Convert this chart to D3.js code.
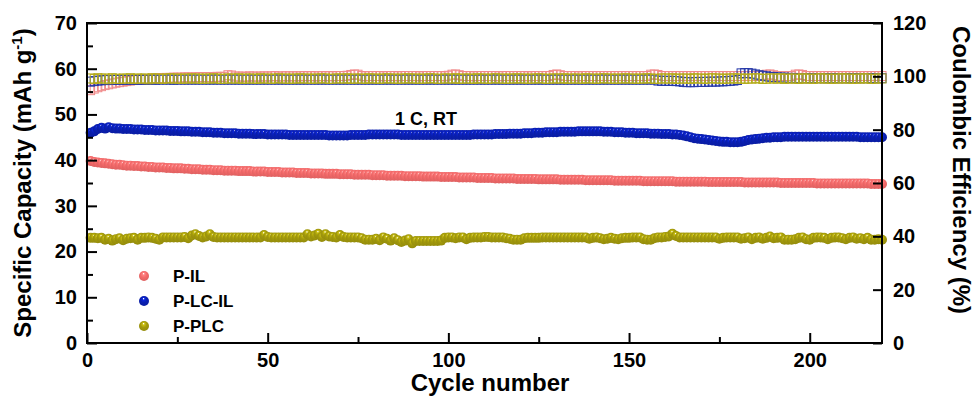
<!DOCTYPE html>
<html>
<head>
<meta charset="utf-8">
<script src="https://cdn.jsdelivr.net/npm/d3@7"></script>
<style>
  body { margin: 0; background: #fff; }
  text { font-family: 'Liberation Sans', Arial, sans-serif; font-weight: bold; fill: #000; }
</style>
</head>
<body>
<div class="svg"></div>
<script>
const width = 975
const height = 400
const margin = { top: 23, right: 93, bottom: 57, left: 87 }

// Cycle numbers 1..220
const cycles = d3.range(1, 221)

// Specific capacity (mAh g-1)
const capIL = [
  39.8,39.6,39.5,39.4,39.3,39.2,39.1,39.0,39.0,38.9,
  38.8,38.8,38.7,38.7,38.6,38.6,38.5,38.5,38.4,38.4,
  38.4,38.3,38.3,38.2,38.2,38.2,38.1,38.1,38.0,38.0,
  38.0,37.9,37.9,37.9,37.8,37.8,37.8,37.7,37.7,37.7,
  37.7,37.6,37.6,37.6,37.6,37.5,37.5,37.5,37.5,37.4,
  37.4,37.4,37.4,37.3,37.3,37.3,37.3,37.2,37.2,37.2,
  37.2,37.1,37.1,37.1,37.1,37.0,37.0,37.0,37.0,36.9,
  36.9,36.9,36.9,36.8,36.8,36.8,36.8,36.8,36.7,36.7,
  36.7,36.7,36.6,36.6,36.6,36.6,36.6,36.5,36.5,36.5,
  36.5,36.5,36.4,36.4,36.4,36.4,36.4,36.3,36.3,36.3,
  36.3,36.3,36.2,36.2,36.2,36.2,36.2,36.1,36.1,36.1,
  36.1,36.1,36.0,36.0,36.0,36.0,36.0,36.0,35.9,35.9,
  35.9,35.9,35.9,35.9,35.8,35.8,35.8,35.8,35.8,35.8,
  35.7,35.7,35.7,35.7,35.7,35.7,35.7,35.6,35.6,35.6,
  35.6,35.6,35.6,35.6,35.6,35.5,35.5,35.5,35.5,35.5,
  35.5,35.5,35.5,35.4,35.4,35.4,35.4,35.4,35.4,35.4,
  35.4,35.4,35.3,35.3,35.3,35.3,35.3,35.3,35.3,35.3,
  35.3,35.2,35.2,35.2,35.2,35.2,35.2,35.2,35.2,35.2,
  35.2,35.1,35.1,35.1,35.1,35.1,35.1,35.1,35.1,35.1,
  35.1,35.0,35.0,35.0,35.0,35.0,35.0,35.0,35.0,35.0,
  35.0,34.9,34.9,34.9,34.9,34.9,34.9,34.9,34.9,34.9,
  34.9,34.9,34.9,34.9,34.9,34.9,34.8,34.8,34.8,34.8
]

const capLCIL = [
  46.0,46.3,46.8,47.1,46.9,47.2,47.0,46.9,46.9,46.8,
  46.8,46.8,46.7,46.7,46.7,46.6,46.6,46.6,46.5,46.5,
  46.5,46.5,46.4,46.4,46.4,46.3,46.3,46.3,46.2,46.2,
  46.2,46.1,46.1,46.1,46.0,46.0,46.0,45.9,45.9,45.9,
  45.9,45.8,45.8,45.8,45.8,45.7,45.7,45.7,45.7,45.6,
  45.6,45.6,45.6,45.6,45.6,45.5,45.5,45.5,45.5,45.5,
  45.5,45.5,45.5,45.5,45.5,45.5,45.4,45.4,45.4,45.4,
  45.4,45.4,45.5,45.5,45.5,45.5,45.5,45.6,45.6,45.6,
  45.6,45.6,45.6,45.6,45.6,45.6,45.5,45.5,45.5,45.5,
  45.5,45.5,45.5,45.5,45.5,45.5,45.5,45.5,45.5,45.5,
  45.5,45.5,45.5,45.5,45.5,45.5,45.6,45.6,45.6,45.6,
  45.6,45.6,45.7,45.7,45.7,45.7,45.8,45.8,45.8,45.8,
  45.9,45.9,45.9,46.0,46.0,46.0,46.1,46.1,46.1,46.1,
  46.2,46.2,46.2,46.2,46.2,46.3,46.3,46.3,46.3,46.3,
  46.3,46.3,46.2,46.2,46.2,46.1,46.1,46.1,46.0,46.0,
  46.0,45.9,45.9,45.9,45.9,45.8,45.8,45.8,45.7,45.7,
  45.7,45.6,45.6,45.5,45.4,45.2,45.0,44.8,44.7,44.6,
  44.5,44.4,44.3,44.2,44.1,44.0,44.0,43.9,43.9,43.9,
  44.0,44.2,44.4,44.5,44.6,44.7,44.8,44.9,44.9,45.0,
  45.0,45.0,45.1,45.1,45.1,45.1,45.1,45.1,45.1,45.1,
  45.1,45.1,45.1,45.1,45.1,45.1,45.1,45.1,45.1,45.1,
  45.1,45.1,45.1,45.0,45.0,45.0,45.0,45.0,45.0,45.0
]

const capPLC = [
  23.0,23.0,22.9,23.0,22.6,22.8,22.4,22.7,22.9,22.5,
  22.8,22.9,23.0,22.6,23.0,23.0,23.1,23.0,22.8,22.6,
  23.1,23.1,23.1,23.1,23.1,23.1,23.2,22.9,23.5,23.8,
  23.4,23.1,23.3,23.8,23.2,23.1,23.1,23.1,23.1,23.1,
  23.1,23.1,23.1,23.1,23.1,23.1,23.1,23.1,23.6,23.2,
  23.1,23.1,23.1,23.1,23.1,23.1,23.1,23.1,23.1,23.1,
  23.8,23.3,23.5,23.9,23.2,23.8,23.3,23.2,23.1,23.6,
  23.2,23.1,23.1,23.1,23.1,22.9,22.6,22.6,22.6,22.8,
  22.5,23.1,22.8,22.4,22.9,22.5,22.1,22.4,22.7,21.8,
  22.3,22.3,22.3,22.3,22.3,22.3,22.3,22.4,23.0,23.1,
  23.1,22.9,23.1,23.1,22.7,23.0,23.1,23.1,23.1,23.2,
  23.2,23.1,23.1,23.1,23.1,22.9,22.8,22.6,22.6,22.6,
  22.9,23.0,23.0,23.0,23.0,23.1,23.1,23.1,23.1,23.1,
  23.1,23.1,23.1,23.1,23.1,23.1,23.1,23.1,22.8,23.0,
  23.1,22.9,22.7,22.8,23.0,22.8,22.7,22.9,23.0,23.0,
  23.1,23.1,23.1,22.7,22.6,22.6,22.9,23.1,23.1,23.2,
  23.3,23.9,23.4,23.1,23.1,23.1,23.1,23.1,23.1,23.1,
  23.1,23.1,23.1,23.1,22.8,23.0,23.1,23.1,23.1,23.1,
  22.8,22.9,23.1,22.7,23.0,23.1,22.8,23.0,23.3,22.9,
  23.0,23.1,22.6,22.6,22.6,22.7,23.0,23.1,22.7,22.6,
  23.0,23.1,23.1,23.0,22.7,23.0,23.1,23.1,22.9,22.7,
  23.0,23.1,22.8,22.9,22.7,23.0,22.6,22.6,22.7,22.6
]

// Coulombic efficiency (%)
const ceIL = [
  95.0,95.6,96.1,96.5,96.9,97.2,97.5,97.8,98.0,98.2,
  98.4,98.6,98.8,98.9,99.0,99.1,99.2,99.3,99.4,99.5,
  99.5,99.6,99.6,99.7,99.7,99.7,99.8,99.8,99.8,99.8,
  99.9,99.9,99.9,99.9,99.9,100.0,100.0,100.0,100.6,100.5,
  100.1,100.1,100.1,100.0,100.2,100.1,100.1,100.1,100.2,100.1,
  100.2,100.3,100.1,100.2,100.2,100.2,100.2,100.2,100.2,100.3,
  100.2,100.3,100.2,100.2,100.3,100.2,100.3,100.2,100.3,100.3,
  100.3,100.4,100.7,100.9,100.8,100.3,100.2,100.3,100.3,100.3,
  100.3,100.2,100.3,100.3,100.3,100.2,100.3,100.3,100.3,100.3,
  100.3,100.2,100.3,100.3,100.3,100.3,100.3,100.3,100.2,100.4,
  100.8,100.9,100.6,100.3,100.3,100.3,100.2,100.3,100.3,100.3,
  100.3,100.3,100.3,100.2,100.3,100.3,100.3,100.3,100.3,100.3,
  100.3,100.2,100.3,100.3,100.3,100.3,100.3,100.3,100.7,100.9,
  100.6,100.3,100.3,100.3,100.3,100.2,100.3,100.3,100.3,100.3,
  100.3,100.3,100.3,100.3,100.3,100.3,100.3,100.3,100.3,100.3,
  100.3,100.3,100.3,100.3,100.3,100.8,100.9,100.7,100.3,100.3,
  100.3,100.3,100.3,100.3,100.3,100.3,100.3,100.3,100.3,100.3,
  100.3,100.3,100.3,100.3,100.3,100.3,100.3,100.3,100.3,100.3,
  100.3,100.3,100.3,100.3,100.3,100.3,100.5,100.8,100.9,100.6,
  100.3,100.3,100.3,100.3,100.3,100.8,100.9,100.7,100.3,100.3,
  100.3,100.3,100.3,100.3,100.3,100.3,100.3,100.3,100.3,100.3,
  100.3,100.3,100.3,100.3,100.3,100.3,100.3,100.3,100.3,100.3
]

const ceLCIL = [
  98.2,98.4,98.6,98.7,98.8,98.8,98.8,98.9,98.9,98.9,
  98.9,98.9,99.0,98.9,98.9,99.0,98.9,99.0,98.9,99.0,
  99.0,99.0,99.0,98.9,99.0,99.0,99.0,99.0,99.0,99.0,
  99.0,99.0,99.0,99.0,99.0,99.0,99.0,99.0,99.0,99.0,
  99.0,99.0,99.0,99.0,99.0,99.0,99.0,99.0,99.0,99.0,
  99.0,99.0,99.0,99.0,99.0,99.0,99.0,99.0,99.0,99.0,
  99.0,99.0,99.0,99.0,99.0,99.0,99.0,99.0,99.0,99.0,
  99.0,99.0,99.0,99.0,99.0,99.0,99.0,99.0,99.0,99.0,
  99.0,99.0,99.0,99.0,99.0,99.0,99.0,99.0,99.0,99.0,
  99.0,99.0,99.0,99.0,99.0,99.0,99.0,99.0,99.0,99.0,
  99.0,99.0,99.0,99.0,99.0,99.0,99.0,99.0,99.0,99.0,
  99.0,99.0,99.0,99.0,99.0,99.0,99.0,99.0,99.0,99.0,
  99.0,99.0,99.0,99.0,99.0,99.0,99.0,99.0,99.0,99.0,
  99.0,99.0,99.0,99.0,99.0,99.0,99.0,99.0,99.0,99.0,
  99.0,99.0,99.0,99.0,99.0,99.0,99.0,99.0,99.0,99.0,
  99.0,99.0,99.0,99.0,99.0,99.0,99.0,98.6,98.5,98.5,
  98.5,98.5,98.4,98.3,98.1,98.0,98.0,98.0,98.1,98.1,
  98.1,98.2,98.2,98.2,98.3,98.3,98.4,98.5,98.6,98.8,
  101.3,101.4,101.4,101.2,100.9,100.6,100.4,100.2,100.0,99.9,
  99.8,99.7,99.7,99.6,99.6,99.5,99.5,99.5,99.5,99.5,
  99.5,99.5,99.5,99.5,99.5,99.5,99.5,99.5,99.5,99.5,
  99.5,99.5,99.5,99.5,99.5,99.5,99.5,99.5,99.5,99.5
]

const cePLC = [
  99.4,99.2,99.5,99.3,99.4,99.1,99.5,99.3,99.2,99.4,
  99.3,99.5,99.2,99.4,99.3,99.4,99.1,99.5,99.3,99.4,
  99.2,99.4,99.5,99.3,99.4,99.2,99.4,99.3,99.5,99.3,
  99.4,99.2,99.4,99.3,99.5,99.4,99.2,99.3,99.4,99.4,
  99.3,99.5,99.2,99.4,99.3,99.4,99.2,99.5,99.3,99.4,
  99.2,99.4,99.5,99.3,99.4,99.2,99.4,99.3,99.5,99.3,
  99.4,99.2,99.4,99.3,99.5,99.4,99.2,99.3,99.4,99.4,
  99.3,99.5,99.2,99.4,99.3,99.4,99.2,99.5,99.3,99.4,
  99.2,99.4,99.5,99.3,99.4,99.2,99.4,99.3,99.5,99.3,
  99.4,99.2,99.4,99.3,99.5,99.4,99.2,99.3,99.4,99.4,
  99.3,99.5,99.2,99.4,99.3,99.4,99.2,99.5,99.3,99.4,
  99.2,99.4,99.5,99.3,99.4,99.2,99.4,99.3,99.5,99.3,
  99.4,99.2,99.4,99.3,99.5,99.4,99.2,99.3,99.4,99.4,
  99.3,99.5,99.2,99.4,99.3,99.4,99.2,99.5,99.3,99.4,
  99.2,99.4,99.5,99.3,99.4,99.2,99.4,99.3,99.5,99.3,
  99.4,99.2,99.4,99.3,99.5,99.4,99.2,99.3,99.4,99.4,
  99.3,99.5,99.2,99.4,99.3,99.4,99.2,99.5,99.3,99.4,
  99.2,99.4,99.5,99.3,99.4,99.2,99.4,99.3,99.5,99.3,
  99.4,99.2,99.4,99.3,99.5,99.4,99.2,99.3,99.4,99.4,
  99.3,99.5,99.2,99.4,99.3,99.4,99.2,99.5,99.3,99.4,
  99.2,99.4,99.5,99.3,99.4,99.2,99.4,99.3,99.5,99.3,
  99.4,99.2,99.4,99.3,99.5,99.4,99.2,99.3,99.4,99.4
]

const seriesNames = ['P-IL', 'P-LC-IL', 'P-PLC']
const capColors = ['#f46a6a', '#0a1fb2', '#a39a0c']
const ceColors = ['#f08a8a', '#2638a8', '#b4ac1c']

const capData = [capIL, capLCIL, capPLC]
const ceData = [ceIL, ceLCIL, cePLC]

const xTicks = [0, 50, 100, 150, 200]
const yLeftTicks = [0, 10, 20, 30, 40, 50, 60, 70]
const yRightTicks = [0, 20, 40, 60, 80, 100, 120]

const svg = d3
  .select('.svg')
  .append('svg')
  .attr('width', width)
  .attr('height', height)

const x = d3.scaleLinear().domain([0, 220]).range([margin.left, width - margin.right])
const yL = d3.scaleLinear().domain([0, 70]).range([height - margin.bottom, margin.top])
const yR = d3.scaleLinear().domain([0, 120]).range([height - margin.bottom, margin.top])

// sphere-like marker fills
const defs = svg.append('defs')
capColors.forEach((c, i) => {
  const g = defs
    .append('radialGradient')
    .attr('id', 'ball' + i)
    .attr('cx', '50%')
    .attr('cy', '45%')
    .attr('fx', '45%')
    .attr('fy', '25%')
    .attr('r', '60%')
  g.append('stop').attr('offset', '0%').attr('stop-color', '#fff')
  g.append('stop').attr('offset', '20%').attr('stop-color', d3.color(c).brighter(0.6))
  g.append('stop').attr('offset', '50%').attr('stop-color', c)
  g.append('stop').attr('offset', '100%').attr('stop-color', d3.color(c).darker(0.3))
})

// Coulombic efficiency: open squares
const sq = 8
ceData.forEach((vals, i) => {
  svg
    .append('g')
    .selectAll('rect')
    .data(vals)
    .enter()
    .append('rect')
    .attr('x', (d, j) => x(cycles[j]) - sq / 2)
    .attr('y', d => yR(d) - sq / 2)
    .attr('width', sq)
    .attr('height', sq + 1)
    .attr('fill', 'none')
    .attr('stroke', ceColors[i])
    .attr('stroke-width', 1)
})

// Specific capacity: filled balls
capData.forEach((vals, i) => {
  svg
    .append('g')
    .selectAll('circle')
    .data(vals)
    .enter()
    .append('circle')
    .attr('cx', (d, j) => x(cycles[j]))
    .attr('cy', d => yL(d))
    .attr('r', 5)
    .attr('fill', 'url(#ball' + i + ')')
})

// Axes
const bottom = height - margin.bottom
const axisStyle = g => {
  g.select('.domain').remove()
  g.selectAll('line').attr('stroke', '#000').attr('stroke-width', 2)
  g.selectAll('text').style('font-size', '20px').style('font-weight', 'bold')
}

// minor ticks
svg
  .append('g')
  .attr('transform', `translate(0,${bottom})`)
  .call(d3.axisTop(x).tickValues([25, 75, 125, 175]).tickSize(6).tickFormat(''))
  .call(axisStyle)
svg
  .append('g')
  .attr('transform', `translate(${margin.left},0)`)
  .call(d3.axisRight(yL).tickValues([5, 15, 25, 35, 45, 55, 65]).tickSize(6).tickFormat(''))
  .call(axisStyle)

// major ticks (inward) and labels
svg
  .append('g')
  .attr('transform', `translate(0,${bottom})`)
  .call(d3.axisTop(x).tickValues(xTicks).tickSize(10).tickFormat(''))
  .call(axisStyle)
svg
  .append('g')
  .attr('transform', `translate(0,${bottom})`)
  .call(d3.axisBottom(x).tickValues(xTicks).tickSize(0).tickPadding(10).tickFormat(d3.format('d')))
  .call(axisStyle)

svg
  .append('g')
  .attr('transform', `translate(${margin.left},0)`)
  .call(d3.axisRight(yL).tickValues(yLeftTicks).tickSize(10).tickFormat(''))
  .call(axisStyle)
svg
  .append('g')
  .attr('transform', `translate(${margin.left},0)`)
  .call(d3.axisLeft(yL).tickValues(yLeftTicks).tickSize(0).tickPadding(10).tickFormat(d3.format('d')))
  .call(axisStyle)

const rightX = width - margin.right
svg
  .append('g')
  .attr('transform', `translate(${rightX},0)`)
  .call(d3.axisLeft(yR).tickValues(yRightTicks).tickSize(9).tickFormat(''))
  .call(axisStyle)
svg
  .append('g')
  .attr('transform', `translate(${rightX},0)`)
  .call(d3.axisRight(yR).tickValues(yRightTicks).tickSize(0).tickPadding(11).tickFormat(d3.format('d')))
  .call(axisStyle)

// frame
svg
  .append('rect')
  .attr('x', margin.left)
  .attr('y', margin.top)
  .attr('width', rightX - margin.left)
  .attr('height', bottom - margin.top)
  .attr('fill', 'none')
  .attr('stroke', '#000')
  .attr('stroke-width', 2)

// Axis titles
const leftTitle = svg
  .append('text')
  .attr('transform', `translate(31,${(margin.top + bottom) / 2}) rotate(-90)`)
  .attr('text-anchor', 'middle')
  .style('font-size', '24px')
leftTitle.append('tspan').text('Specific Capacity (mAh g')
leftTitle.append('tspan').attr('dy', -9).style('font-size', '15px').text('-1')
leftTitle.append('tspan').attr('dy', 9).text(')')

svg
  .append('text')
  .attr('transform', `translate(953,${(margin.top + bottom) / 2 - 13}) rotate(90)`)
  .attr('text-anchor', 'middle')
  .style('font-size', '24px')
  .text('Coulombic Efficiency (%)')

svg
  .append('text')
  .attr('x', 490)
  .attr('y', 391)
  .attr('text-anchor', 'middle')
  .style('font-size', '24px')
  .text('Cycle number')

svg
  .append('text')
  .attr('x', 426)
  .attr('y', 125)
  .attr('text-anchor', 'middle')
  .style('font-size', '18px')
  .text('1 C, RT')

// Legend
const legend = svg.append('g').attr('id', 'legend')
seriesNames.forEach((name, i) => {
  const ly = 276 + i * 25
  legend
    .append('circle')
    .attr('cx', 144)
    .attr('cy', ly)
    .attr('r', 5)
    .attr('fill', 'url(#ball' + i + ')')
  legend
    .append('text')
    .attr('x', 173)
    .attr('y', ly + 6)
    .style('font-size', '17px')
    .text(name)
})
</script>
</body>
</html>
